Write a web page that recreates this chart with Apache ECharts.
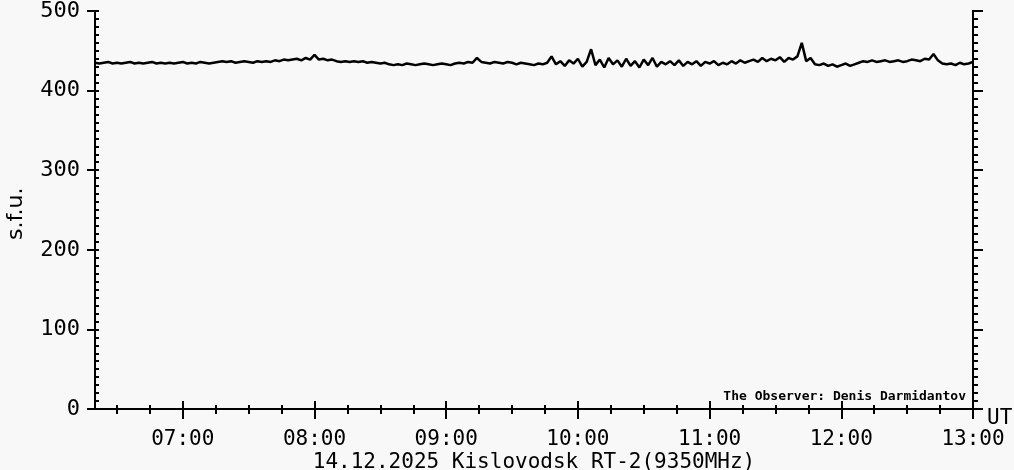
<!DOCTYPE html>
<html>
<head>
<meta charset="utf-8">
<script src="https://cdn.jsdelivr.net/npm/echarts@6/dist/echarts.min.js"></script>
<style>
  html, body { margin: 0; padding: 0; background: #f8f8f8; }
  #chart { width: 1014px; height: 470px; }
</style>
</head>
<body>
<div id="chart"></div>
<script>
// sample clock, minutes after 00:00 UT
const startMin = 380
const endMin = 780
const stepMin = 2

// flux, s.f.u., one value every 2 minutes from 06:20 to 13:00
const flux = [
  435, 434, 435, 436, 434, 435, 434, 435, 436, 434, 435, 434, 435, 436, 434,
  435, 434, 435, 434, 435, 436, 434, 435, 434, 436, 435, 434, 435, 436, 437,
  436, 437, 435, 436, 437, 436, 435, 437, 436, 437, 436, 438, 437, 439, 438,
  439, 440, 438, 441, 439, 445, 439, 440, 438, 439, 437, 436, 437, 436, 437,
  436, 437, 435, 436, 435, 434, 435, 433, 432, 433, 432, 434, 433, 432, 433,
  434, 433, 432, 433, 434, 433, 432, 434, 435, 434, 436, 435, 441, 436, 435,
  434, 436, 435, 434, 436, 435, 433, 435, 434, 433, 432, 434, 433, 435, 443,
  433, 437, 431, 438, 434, 440, 430, 436, 452, 432, 439, 429, 441, 433, 438,
  430, 440, 431, 437, 429, 439, 432, 441, 430, 436, 433, 437, 432, 438, 431,
  436, 433, 437, 431, 436, 434, 437, 432, 435, 433, 437, 434, 438, 435, 437,
  439, 436, 441, 437, 440, 438, 442, 436, 441, 439, 443, 460, 437, 441, 433,
  432, 434, 431, 433, 430, 432, 434, 431, 433, 435, 437, 436, 438, 436, 437,
  438, 436, 437, 438, 436, 437, 439, 438, 437, 440, 439, 446, 438, 434, 433,
  434, 432, 435, 433, 434, 436
]

const hourTicks = [420, 480, 540, 600, 660, 720, 780]
const hourLabels = ['07:00', '08:00', '09:00', '10:00', '11:00', '12:00', '13:00']
const quarterTicks = [390, 405, 435, 450, 465, 495, 510, 525, 555, 570, 585,
  615, 630, 645, 675, 690, 705, 735, 750, 765]
const fluxTicks = [0, 100, 200, 300, 400, 500]

const FONT = 'DejaVu Sans Mono'
const INK = '#000'

const points = flux.map((v, i) => [startMin + i * stepMin, v])

function xAxis(position, tickLen, ticks, labels) {
  return {
    type: 'value', position, min: startMin, max: endMin,
    axisLine: { show: true, lineStyle: { color: INK, width: 2 } },
    axisTick: { show: true, customValues: ticks, length: tickLen, lineStyle: { color: INK, width: 2 } },
    axisLabel: labels ? {
      show: true, customValues: ticks, margin: 20,
      color: INK, fontSize: 21, fontFamily: FONT,
      formatter: v => labels[ticks.indexOf(v)] || ''
    } : { show: false },
    splitLine: { show: false }
  }
}

function yAxis(position, tickLen, inside, interval, labels) {
  return {
    type: 'value', position, min: 0, max: 500, interval,
    axisLine: { show: true, lineStyle: { color: INK, width: 2 } },
    axisTick: { show: true, inside, length: tickLen, lineStyle: { color: INK, width: 2 } },
    axisLabel: labels ? {
      show: true, customValues: fluxTicks, margin: 15,
      color: INK, fontSize: 22, fontFamily: FONT
    } : { show: false },
    splitLine: { show: false }
  }
}

const chart = echarts.init(document.getElementById('chart'))
chart.setOption({
  animation: false,
  backgroundColor: '#f8f8f8',
  grid: { left: 95, right: 41, top: 8, bottom: 61 },
  xAxis: [
    xAxis('bottom', 10, hourTicks, hourLabels),
    xAxis('bottom', 5, quarterTicks, null),
    xAxis('top', 8, hourTicks, null),
    xAxis('top', 4, quarterTicks, null)
  ],
  yAxis: [
    yAxis('left', 8, false, 100, true),
    yAxis('left', 4, true, 10, false),
    yAxis('right', 10, false, 100, false),
    yAxis('right', 5, false, 10, false)
  ],
  series: [{
    type: 'line',
    xAxisIndex: 0, yAxisIndex: 0,
    data: points,
    showSymbol: false,
    lineStyle: { color: INK, width: 2.5 }
  }],
  graphic: [
    { type: 'text', x: 5, y: 240, rotation: Math.PI / 2,
      style: { text: 's.f.u.', fill: INK, font: '22px "DejaVu Sans"' } },
    { type: 'text', x: 534, y: 452,
      style: { text: '14.12.2025 Kislovodsk RT-2(9350MHz)', fill: INK, align: 'center', font: `21px "${FONT}"` } },
    { type: 'text', x: 987, y: 408, style: { text: 'UT', fill: INK, font: `21px "${FONT}"` } },
    { type: 'text', x: 966, y: 390,
      style: { text: 'The Observer: Denis Darmidantov', fill: INK, align: 'right', font: `bold 13px "${FONT}"` } }
  ]
})
</script>
</body>
</html>
